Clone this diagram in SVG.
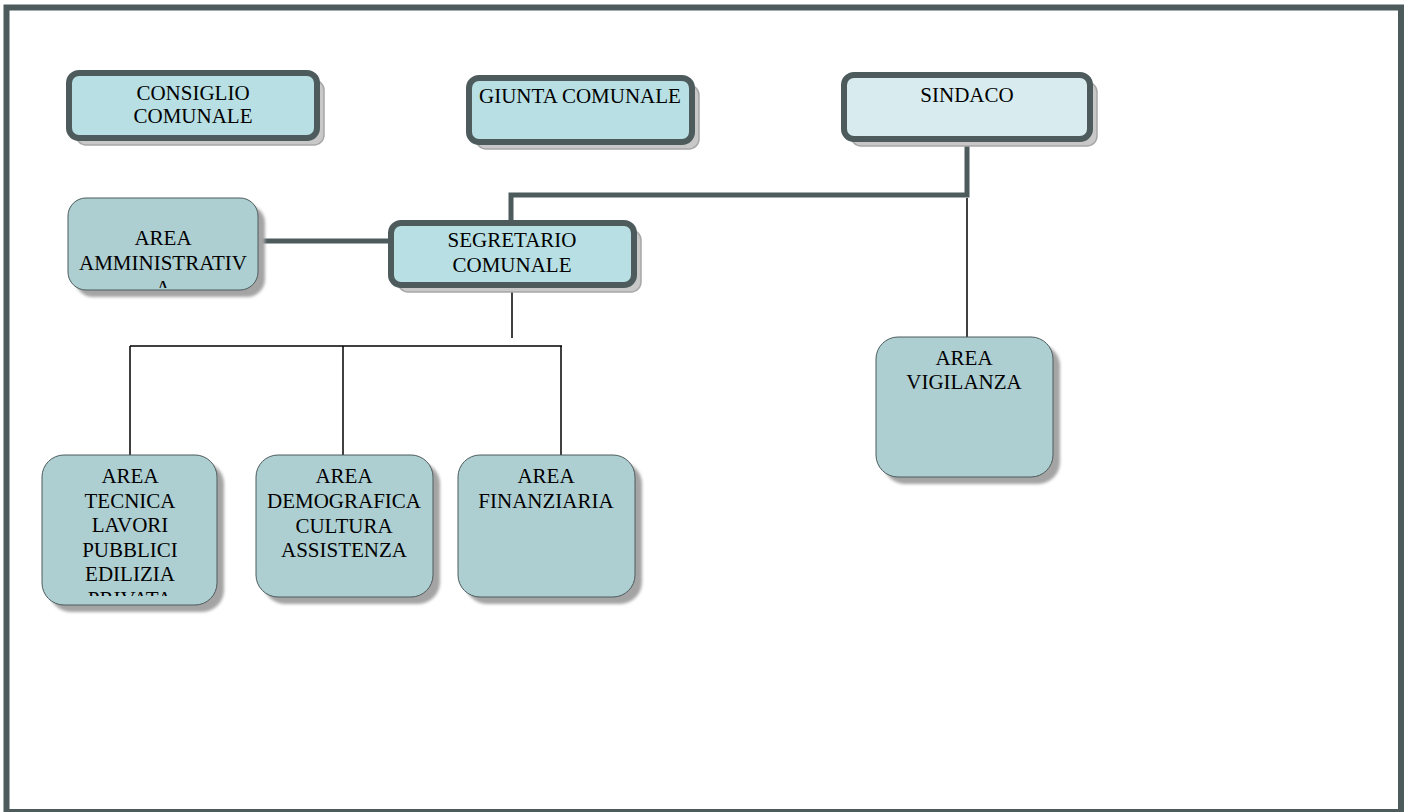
<svg xmlns="http://www.w3.org/2000/svg" width="1406" height="812" viewBox="0 0 1406 812">
  <style>
    .frame { fill: #ffffff; stroke: #4d5b5c; stroke-width: 6; }
    .box-strong { fill: #b8dfe3; stroke: #4d5b5c; stroke-width: 6; }
    .box-sindaco { fill: #d8ecef; stroke: #4d5b5c; stroke-width: 6; }
    .box-area { fill: #aecfd2; stroke: #4d5b5c; stroke-width: 1; }
    .shadow-strong { fill: #c8c8c8; stroke: #a6a6a6; stroke-width: 1.5; }
    .shadow-area { fill: #a4a4a4; filter: url(#soft); }
    .label { font-family: "Liberation Serif", "Times New Roman", serif; font-size: 21px; fill: #000000; text-anchor: middle; }
    .link-thick { fill: none; stroke: #4d5b5c; stroke-width: 5; }
    .link-thin { fill: none; stroke: #000000; stroke-width: 1.5; }
  </style>
  <defs>
    <filter id="soft" x="-10%" y="-10%" width="120%" height="120%">
      <feGaussianBlur stdDeviation="1.5"/>
    </filter>
    <clipPath id="clip-amm"><rect x="68" y="198" width="190" height="90"/></clipPath>
    <clipPath id="clip-tec"><rect x="42" y="455" width="175" height="141"/></clipPath>
  </defs>

  <rect class="frame" x="6.5" y="7.5" width="1394.5" height="804.5"/>

  <!-- connectors -->
  <g id="connectors">
    <polyline class="link-thick" points="967,145 967,195 511,195 511,221"/>
    <line class="link-thick" x1="258" y1="241" x2="389" y2="241"/>
    <line class="link-thin" x1="967" y1="198" x2="967" y2="338"/>
    <line class="link-thin" x1="512" y1="288" x2="512" y2="338"/>
    <line class="link-thin" x1="130" y1="346" x2="562" y2="346"/>
    <line class="link-thin" x1="130" y1="346" x2="130" y2="456"/>
    <line class="link-thin" x1="343" y1="346" x2="343" y2="456"/>
    <line class="link-thin" x1="561" y1="346" x2="561" y2="456"/>
  </g>

  <g id="consiglio-comunale">
    <rect class="shadow-strong" x="76" y="80" width="248" height="65" rx="10"/>
    <rect class="box-strong" x="69" y="73" width="248" height="65" rx="10"/>
    <text class="label" x="193" y="100">CONSIGLIO</text>
    <text class="label" x="193" y="123">COMUNALE</text>
  </g>

  <g id="giunta-comunale">
    <rect class="shadow-strong" x="476" y="85" width="223" height="64" rx="10"/>
    <rect class="box-strong" x="469" y="78" width="223" height="64" rx="10"/>
    <text class="label" x="580" y="103">GIUNTA COMUNALE</text>
  </g>

  <g id="sindaco">
    <rect class="shadow-strong" x="851" y="82" width="246" height="64" rx="10"/>
    <rect class="box-sindaco" x="844" y="75" width="246" height="64" rx="10"/>
    <text class="label" x="967" y="102">SINDACO</text>
  </g>

  <g id="segretario-comunale">
    <rect class="shadow-strong" x="398" y="230" width="243" height="62" rx="10"/>
    <rect class="box-strong" x="391" y="223" width="243" height="62" rx="10"/>
    <text class="label" x="512" y="247">SEGRETARIO</text>
    <text class="label" x="512" y="272">COMUNALE</text>
  </g>

  <g id="area-amministrativa">
    <rect class="shadow-area" x="75" y="205" width="190" height="92" rx="18"/>
    <rect class="box-area" x="68" y="198" width="190" height="92" rx="18"/>
    <g clip-path="url(#clip-amm)">
      <text class="label" x="163" y="245">AREA</text>
      <text class="label" x="163" y="270">AMMINISTRATIV</text>
      <text class="label" x="163" y="295">A</text>
    </g>
  </g>

  <g id="area-tecnica">
    <rect class="shadow-area" x="49" y="462" width="175" height="150" rx="22"/>
    <rect class="box-area" x="42" y="455" width="175" height="150" rx="22"/>
    <g clip-path="url(#clip-tec)">
      <text class="label" x="130" y="483">AREA</text>
      <text class="label" x="130" y="508">TECNICA</text>
      <text class="label" x="130" y="532">LAVORI</text>
      <text class="label" x="130" y="557">PUBBLICI</text>
      <text class="label" x="130" y="581">EDILIZIA</text>
      <text class="label" x="130" y="606">PRIVATA</text>
    </g>
  </g>

  <g id="area-demografica">
    <rect class="shadow-area" x="263" y="462" width="177" height="142" rx="22"/>
    <rect class="box-area" x="256" y="455" width="177" height="142" rx="22"/>
    <text class="label" x="344" y="483">AREA</text>
    <text class="label" x="344" y="508">DEMOGRAFICA</text>
    <text class="label" x="344" y="533">CULTURA</text>
    <text class="label" x="344" y="557">ASSISTENZA</text>
  </g>

  <g id="area-finanziaria">
    <rect class="shadow-area" x="465" y="462" width="177" height="142" rx="22"/>
    <rect class="box-area" x="458" y="455" width="177" height="142" rx="22"/>
    <text class="label" x="546" y="483">AREA</text>
    <text class="label" x="546" y="508">FINANZIARIA</text>
  </g>

  <g id="area-vigilanza">
    <rect class="shadow-area" x="883" y="344" width="177" height="140" rx="22"/>
    <rect class="box-area" x="876" y="337" width="177" height="140" rx="22"/>
    <text class="label" x="964" y="365">AREA</text>
    <text class="label" x="964" y="389">VIGILANZA</text>
  </g>
</svg>
